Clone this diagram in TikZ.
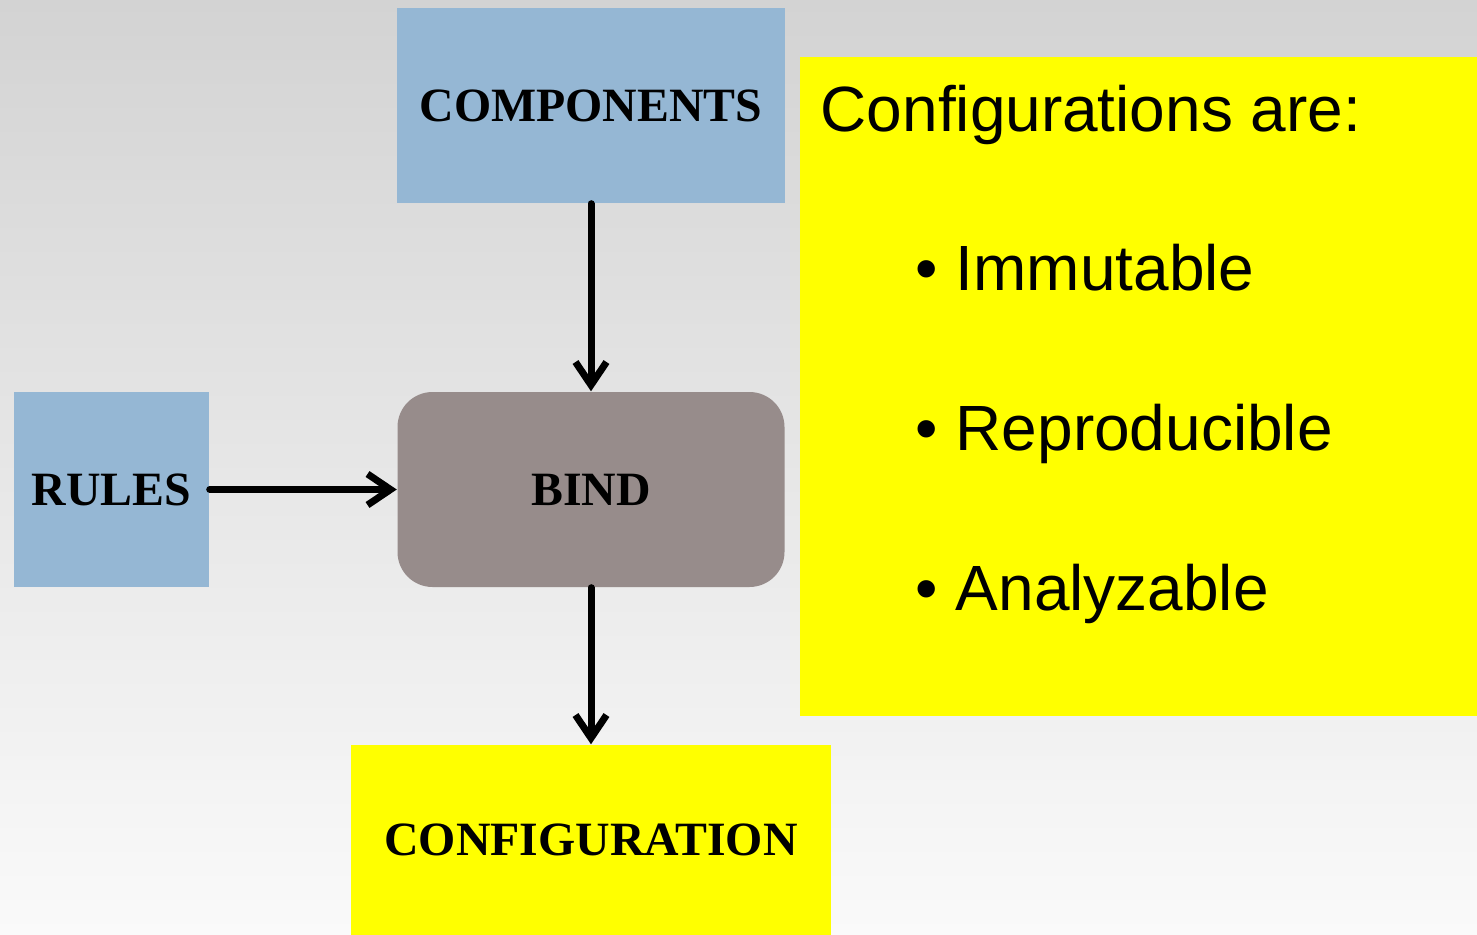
\documentclass[tikz,border=0pt]{standalone}
\usepackage{fontspec}
\setmainfont{Liberation Serif}
\newfontfamily\panelfont{Liberation Sans}
\usepackage{tikz}
\usetikzlibrary{shapes,positioning,arrows.meta}
\definecolor{boxblue}{RGB}{149,183,212}
\definecolor{bindgray}{RGB}{151,140,139}
\definecolor{hiyellow}{RGB}{255,255,0}
\definecolor{bgtop}{RGB}{211,211,211}
\definecolor{bgbot}{RGB}{250,250,250}
\tikzset{blk/.style={rectangle,inner sep=0pt,font=\bfseries\fontsize{13.6}{16}\selectfont},
  arr/.style={line width=0.07cm,line cap=round,-{Straight Barb[length=2.3mm,width=3.1mm]}},
  itm/.style={anchor=base west,inner sep=0pt,font=\panelfont\fontsize{18.2}{20}\selectfont}}

\begin{document}
\begin{tikzpicture}[>=stealth]
    \useasboundingbox (0,0) rectangle (14.77,-9.35);
    \shade[top color=bgtop,bottom color=bgbot] (0,0) rectangle (14.77,-9.35);

    \node[blk,fill=boxblue,minimum width=3.88cm,minimum height=1.95cm] (a)at (5.91,-1.055) {COMPONENTS};
    \node[blk,fill=boxblue,minimum width=1.95cm,minimum height=1.95cm] (b)at (1.115,-4.895) {RULES};
    \node[blk,fill=bindgray,rounded corners=0.35cm,minimum width=3.87cm,minimum height=1.95cm] (c)at (5.91,-4.895) {BIND};
    \node[blk,fill=hiyellow,minimum width=4.80cm,minimum height=1.90cm] (d)at (5.91,-8.40) {CONFIGURATION};
    \node[rectangle,fill=hiyellow,minimum width=6.77cm,minimum height=6.59cm] (e)at (11.385,-3.865) {};

    \node[itm] (f)at (8.20,-1.31) {Configurations are:};
    \node[itm] (g)at (9.15,-2.90) {\textbullet\ Immutable};
    \node[itm] (h)at (9.15,-4.50) {\textbullet\ Reproducible};
    \node[itm] (i)at (9.15,-6.10) {\textbullet\ Analyzable};

    \draw [arr] (a) to []node[]{} (c);
    \draw [arr] (b) to []node[]{} (c);
    \draw [arr] (c) to []node[]{} (d);
\end{tikzpicture}
\end{document}
